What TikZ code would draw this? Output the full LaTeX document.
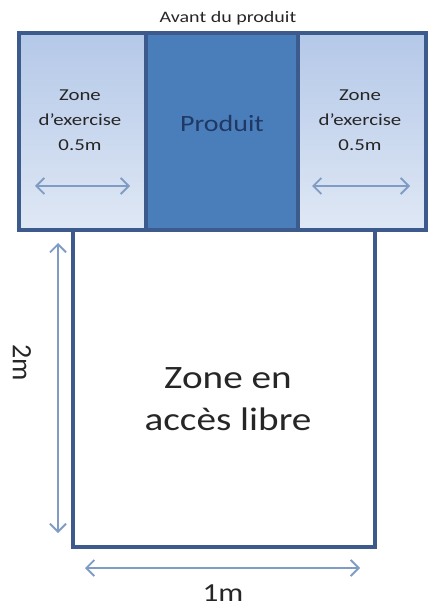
\documentclass[tikz,border=0pt]{standalone}
\usepackage{fontspec}
\setmainfont{Carlito}
\newfontfamily\wideA[FakeStretch=1.2]{Carlito}
\newfontfamily\wideB[FakeStretch=1.25]{Carlito}
\usetikzlibrary{arrows.meta}
\definecolor{frame}{HTML}{3C5A8C}
\definecolor{prodfill}{HTML}{4A7EBB}
\definecolor{zonetop}{HTML}{B4C8E8}
\definecolor{zonebot}{HTML}{DFE8F5}
\definecolor{arrowc}{HTML}{7F9CC4}
\definecolor{prodtext}{HTML}{1F3864}
\tikzset{
  frameline/.style={draw=frame, line width=2.4pt},
  dimarrow/.style={draw=arrowc, line width=1.4pt, {Straight Barb[length=6pt,width=12pt]}-{Straight Barb[length=6pt,width=12pt]}},
  smalltxt/.style={font=\wideB\fontsize{12.5}{18.75}\selectfont, align=center, text=black!85},
}
\begin{document}
\begin{tikzpicture}[x=0.75pt,y=0.75pt]
\useasboundingbox (0,-609) rectangle (434,0);
% zones
\fill[top color=zonetop, bottom color=zonebot] (19,-33) rectangle (146,-230);
\fill[top color=zonetop, bottom color=zonebot] (298,-33) rectangle (426,-230);
\fill[prodfill] (146,-33) rectangle (298,-230);
\draw[frameline] (19,-33) rectangle (426,-230);
\draw[frameline] (146,-33) -- (146,-230);
\draw[frameline] (298,-33) -- (298,-230);
% free access zone
\draw[frameline] (73,-230) -- (73,-547) -- (375,-547) -- (375,-230);
% texts
\node[font=\wideB\fontsize{12}{14}\selectfont, text=black!85] (title) at (228,-18) {Avant du produit};
\node[smalltxt] (lz) at (80,-120) {Zone\\d’exercise\\0.5m};
\node[smalltxt] (rz) at (360,-120) {Zone\\d’exercise\\0.5m};
\node[font=\wideA\fontsize{17.5}{20}\selectfont, text=prodtext] (prod) at (222,-123) {Produit};
\node[font=\wideA\fontsize{24.5}{31.5}\selectfont, align=center, text=black!85] (free) at (228,-399) {Zone en\\accès libre};
\node[font=\wideA\fontsize{19.5}{22}\selectfont, text=black!85] (one) at (223,-593) {1m};
\node[font=\fontsize{21}{24}\selectfont, text=black!85, rotate=-90] (two) at (22,-363) {2m};
% arrow ends
\coordinate (la1) at (35,-186); \coordinate (la2) at (130,-186);
\coordinate (ra1) at (312,-186); \coordinate (ra2) at (410,-186);
\coordinate (va1) at (58,-243); \coordinate (va2) at (58,-533);
\coordinate (ha1) at (85,-568); \coordinate (ha2) at (360,-568);
\draw[dimarrow] (la1) -- (la2);
\draw[dimarrow] (ra1) -- (ra2);
\draw[dimarrow] (va1) -- (va2);
\draw[dimarrow] (ha1) -- (ha2);
\end{tikzpicture}
\end{document}
